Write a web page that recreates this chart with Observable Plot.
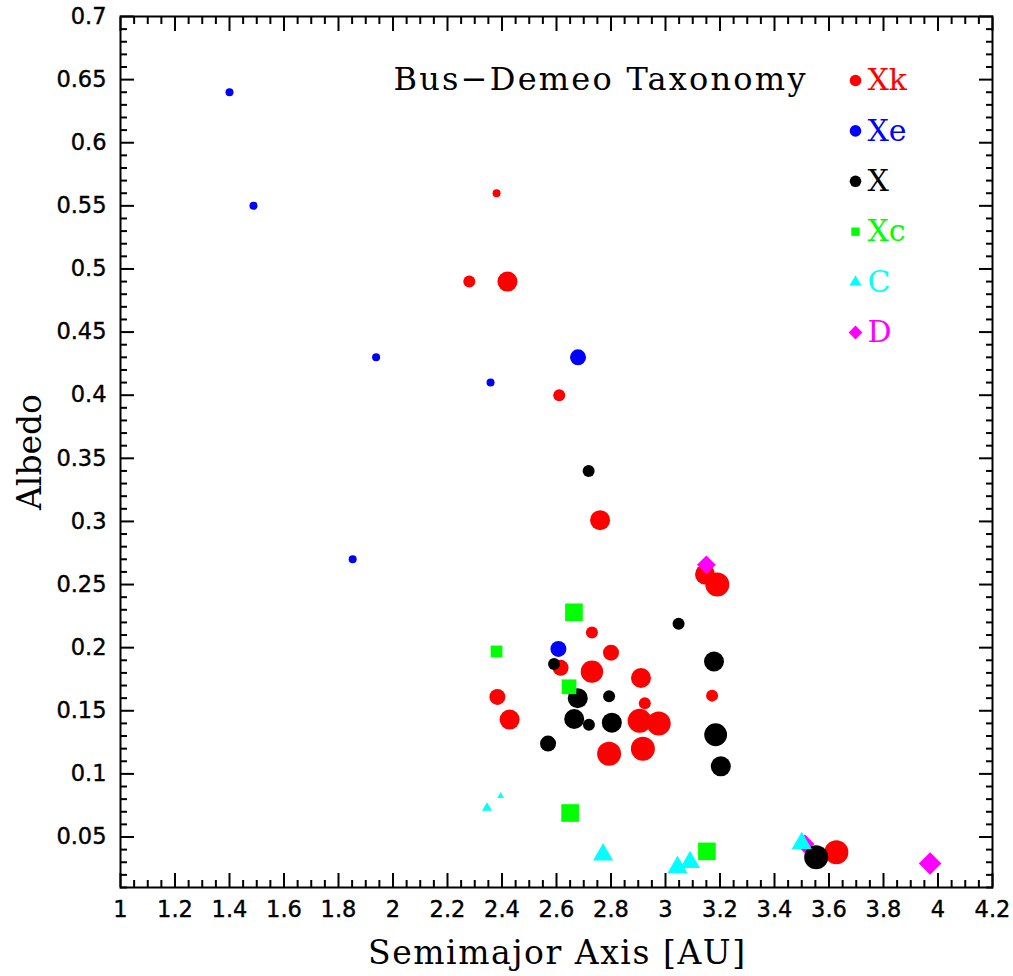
<!DOCTYPE html>
<html><head><meta charset="utf-8">
<script src="https://cdn.jsdelivr.net/npm/d3@7"></script>
<script src="https://cdn.jsdelivr.net/npm/@observablehq/plot@0.6"></script>
<style>html,body{margin:0;padding:0;background:#fff}#chart{width:1013px;height:976px}</style>
</head><body><div id="chart"></div>
<script>
// ---- Data ----
const categories = ["Xk", "Xe", "X", "Xc", "C", "D"];
const title = "Bus−Demeo Taxonomy";
const xLabel = "Semimajor Axis [AU]";
const yLabel = "Albedo";
const xTicks = [1, 1.2, 1.4, 1.6, 1.8, 2, 2.2, 2.4, 2.6, 2.8, 3, 3.2, 3.4, 3.6, 3.8, 4, 4.2];
const yTicks = [0.05, 0.1, 0.15, 0.2, 0.25, 0.3, 0.35, 0.4, 0.45, 0.5, 0.55, 0.6, 0.65, 0.7];

// Xk
const xkA    = [2.38, 2.28, 2.42, 2.61, 2.76, 3.145, 3.19, 2.73, 2.80, 2.615, 2.73, 2.91, 2.383, 2.924, 2.428, 2.905, 2.975, 2.793, 2.917, 3.171, 3.627];
const xkAlb  = [0.560, 0.490, 0.490, 0.400, 0.301, 0.258, 0.250, 0.212, 0.196, 0.184, 0.181, 0.176, 0.161, 0.156, 0.143, 0.142, 0.140, 0.116, 0.120, 0.162, 0.038];
const xkSize = [1, 2, 4, 2, 4, 4, 5, 2, 3, 3, 4.6, 4, 3, 2, 4, 5, 5, 5, 5, 2, 5];
// Xe
const xeA    = [1.40, 1.488, 1.938, 2.358, 1.852, 2.679, 2.607];
const xeAlb  = [0.640, 0.550, 0.430, 0.410, 0.270, 0.430, 0.199];
const xeSize = [1, 1, 1, 1, 1, 3, 3];
// X
const xA     = [2.718, 3.048, 2.591, 3.178, 2.678, 2.793, 2.665, 2.719, 2.803, 2.569, 3.184, 3.203, 3.553];
const xAlb   = [0.340, 0.219, 0.187, 0.189, 0.160, 0.1615, 0.1435, 0.139, 0.1406, 0.124, 0.131, 0.106, 0.034];
const xSize  = [2, 2, 2, 4, 4, 2, 4, 2, 4, 3, 4.7, 4, 5];
// Xc
const xcA    = [2.664, 2.380, 2.646, 2.650, 3.152];
const xcAlb  = [0.228, 0.197, 0.169, 0.069, 0.0386];
const xcSize = [5, 3, 4, 5, 5];
// C
const cA     = [2.345, 2.395, 2.771, 3.044, 3.090, 3.500];
const cAlb   = [0.073, 0.0825, 0.036, 0.026, 0.030, 0.045];
const cSize  = [2, 1, 5, 5, 5, 5];
// D
const dA     = [3.150, 3.512, 3.971];
const dAlb   = [0.2656, 0.0445, 0.029];
const dSize  = [4, 4, 5];

// ---- Styles ----
const colors  = {Xk: "#ff0000", Xe: "#0000ff", X: "#000000", Xc: "#00ff00", C: "#00ffff", D: "#ff00ff"};
const symbols = {Xk: "circle", Xe: "circle", X: "circle", Xc: "square", C: "triangle", D: "diamond2"};
const symMult = {circle: 1, square: 0.83, triangle: 0.62, diamond2: 0.85};
const legendR = {circle: 5.8, square: 4.7, triangle: 4.45, diamond2: 6.2};
const rOf = s => 2 + 2 * s;

const rows = (a, alb, s) => a.map((v, i) => ({a: v, albedo: alb[i], size: s[i]}));
const series = {
  Xk: rows(xkA, xkAlb, xkSize),
  Xe: rows(xeA, xeAlb, xeSize),
  X:  rows(xA, xAlb, xSize),
  Xc: rows(xcA, xcAlb, xcSize),
  C:  rows(cA, cAlb, cSize),
  D:  rows(dA, dAlb, dSize)
};
const drawOrder = ["Xk", "Xe", "D", "X", "Xc", "C"];

const xMinor = d3.range(0, 65).map(i => 1 + i * 0.05).filter((v, i) => i % 4 !== 0);
const yMinor = d3.range(1, 71).map(i => i / 100).filter(v => Math.round(v * 100) % 5 !== 0);

const serif = "DejaVu Serif";
const sans = "DejaVu Sans";

const marks = [];
// ticks (inward, all four sides), tick-only axes
for (const anchor of ["bottom", "top"]) {
  marks.push(Plot.axisX({anchor, ticks: xTicks, tickSize: -14, strokeWidth: 2, stroke: "black", fill: "none", label: null}));
  marks.push(Plot.axisX({anchor, ticks: xMinor, tickSize: -7, strokeWidth: 2, stroke: "black", fill: "none", label: null}));
}
for (const anchor of ["left", "right"]) {
  marks.push(Plot.axisY({anchor, ticks: yTicks, tickSize: -14, strokeWidth: 2, stroke: "black", fill: "none", label: null}));
  marks.push(Plot.axisY({anchor, ticks: yMinor, tickSize: -7, strokeWidth: 2, stroke: "black", fill: "none", label: null}));
}
// tick labels as text marks positioned by the scales
marks.push(Plot.text(xTicks, {x: d => d, text: d => String(d), frameAnchor: "bottom", dy: 14,
  lineAnchor: "top", textAnchor: "middle", fontFamily: sans, fontSize: 22.5, fill: "black", stroke: "black", strokeWidth: 0.4, className: "xtl"}));
marks.push(Plot.text(yTicks, {y: d => d, text: d => String(d), frameAnchor: "left", dx: -14,
  lineAnchor: "middle", textAnchor: "end", fontFamily: sans, fontSize: 22.5, fill: "black", stroke: "black", strokeWidth: 0.4, className: "ytl"}));
marks.push(Plot.frame({stroke: "black", strokeWidth: 2}));

// points
for (const cat of drawOrder) {
  const sym = symbols[cat];
  marks.push(Plot.dot(series[cat], {
    x: "a", y: "albedo",
    r: d => rOf(d.size) * symMult[sym],
    symbol: sym, fill: colors[cat]
  }));
}

// title
marks.push(Plot.text([title], {text: d => d, frameAnchor: "top-left", dx: 273, dy: 73,
  textAnchor: "start", lineAnchor: "bottom", fontFamily: serif, fontSize: 32, fill: "black", className: "ttl"}));

// legend
categories.forEach((cat, i) => {
  const sym = symbols[cat];
  marks.push(Plot.dot([cat], {frameAnchor: "top-left", dx: 735, dy: 64 + 50.4 * i,
    r: legendR[sym], symbol: sym, fill: colors[cat]}));
  marks.push(Plot.text([cat], {text: d => d, frameAnchor: "top-left", dx: 747, dy: 64 + 50.4 * i,
    textAnchor: "start", lineAnchor: "middle", fill: colors[cat], fontFamily: serif, fontSize: 30}));
});

// axis labels
marks.push(Plot.text([xLabel], {text: d => d, frameAnchor: "bottom", dy: 76, lineAnchor: "bottom",
  fontFamily: serif, fontSize: 33, fill: "black", className: "xlab"}));
marks.push(Plot.text([yLabel], {text: d => d, frameAnchor: "left", dx: -80, rotate: -90, lineAnchor: "bottom",
  textAnchor: "middle", fontFamily: serif, fontSize: 33, fill: "black", className: "ylab"}));

const chart = Plot.plot({
  width: 1013, height: 976,
  marginLeft: 120, marginRight: 21, marginTop: 16, marginBottom: 89,
  x: {domain: [1, 4.2]},
  y: {domain: [0.01, 0.7]},
  r: {type: "identity"},
  symbol: {type: "identity"},
  style: {fontFamily: sans, background: "white", color: "black", overflow: "visible"},
  marks
});

const fit = (cls, len) => {
  const t = chart.querySelector(`.${cls} text`);
  if (t) { t.setAttribute("textLength", len); t.setAttribute("lengthAdjust", "spacing"); }
};
fit("ttl", 412);
fit("xlab", 377);
fit("ylab", 116);

document.getElementById("chart").appendChild(chart);
</script>
</body></html>
